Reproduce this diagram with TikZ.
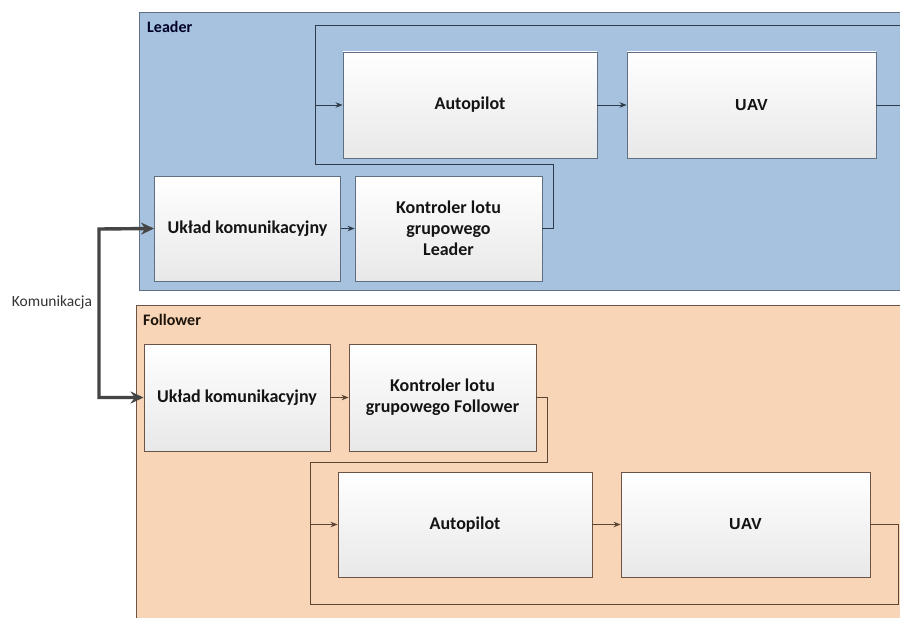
\documentclass[tikz,border=0pt]{standalone}
\usepackage{fontspec}
\setmainfont{Carlito}
\newfontfamily\uavfont{Liberation Sans}
\usetikzlibrary{arrows.meta}
\definecolor{leadfill}{HTML}{A6C2DE}
\definecolor{leadedge}{HTML}{5F7083}
\definecolor{leadline}{HTML}{2E3B4A}
\definecolor{follfill}{HTML}{F7D5B6}
\definecolor{folledge}{HTML}{6B5446}
\definecolor{follline}{HTML}{5C4535}
\definecolor{commcol}{HTML}{454545}
\tikzset{
  panel/.style={draw=#1, line width=1.1pt, anchor=north west, inner sep=0pt},
  blockbox/.style={draw=#1, line width=0.9pt, top color=white, bottom color=black!9,
    text=black!92, font=\bfseries\fontsize{18}{21}\selectfont, align=center, inner sep=2pt},
  uavtext/.style={font=\uavfont\bfseries\fontsize{16}{19}\selectfont},
  flow/.style={draw=#1, line width=0.9pt},
  flowarrow/.style={draw=#1, line width=0.9pt, -{Stealth[length=7pt,width=5.5pt]}},
  comm/.style={draw=commcol, line width=3.4pt, {Stealth[length=13pt,width=12pt]}-{Stealth[length=13pt,width=12pt]}},
  paneltitle/.style={font=\bfseries\fontsize{16}{19}\selectfont, anchor=west, inner sep=0pt}
}
\begin{document}
\begin{tikzpicture}[x=1pt,y=-1pt]
\useasboundingbox (0,0) rectangle (900,618);
\clip (0,0) rectangle (900,618);
\fill[white] (0,0) rectangle (900,618);

% panels
\node[panel=leadedge, fill=leadfill, minimum width=780pt, minimum height=278pt] (leader) at (139,12) {};
\node[panel=folledge, fill=follfill, minimum width=780pt, minimum height=330pt] (follower) at (136,305) {};
\node[paneltitle, text=black!85!blue] (leadertitle) at (147,27) {Leader};
\node[paneltitle, text=black!85!brown] (followertitle) at (143,320) {Follower};

% leader blocks
\node[blockbox=leadedge, minimum width=186pt, minimum height=105pt] (ulL) at (247.5,228.5) {Układ komunikacyjny};
\node[blockbox=leadedge, minimum width=187pt, minimum height=105pt] (kL) at (448.5,228.5) {Kontroler lotu\\grupowego\\Leader};
\node[blockbox=leadedge, minimum width=254pt, minimum height=106pt] (apL) at (470,105) {Autopilot};
\node[blockbox=leadedge, minimum width=249pt, minimum height=106pt, uavtext] (uavL) at (751.5,105) {UAV};

% follower blocks
\node[blockbox=folledge, minimum width=186pt, minimum height=107pt] (ulF) at (237,397.5) {Układ komunikacyjny};
\node[blockbox=folledge, minimum width=187pt, minimum height=107pt] (kF) at (442.5,397.5) {Kontroler lotu\\grupowego Follower};
\node[blockbox=folledge, minimum width=254pt, minimum height=105pt] (apF) at (465,524.5) {Autopilot};
\node[blockbox=folledge, minimum width=249pt, minimum height=105pt, uavtext] (uavF) at (745.5,524.5) {UAV};

% leader connectors
\coordinate (lt) at (315,25);
\coordinate (lr) at (910,25);
\coordinate (lk) at (553,164);
\draw[flowarrow=leadline] (ulL.east) -- (kL.west);
\draw[flowarrow=leadline] (apL.east) -- (uavL.west);
\draw[flowarrow=leadline] (uavL.east) -| (lr) -- (lt) |- (apL.west);
\draw[flow=leadline] (kL.east) -| (lk) -| (apL.west -| lt);

% follower connectors
\coordinate (fk) at (547,462);
\coordinate (fb) at (898,604);
\coordinate (fl) at (310,604);
\draw[flowarrow=follline] (ulF.east) -- (kF.west);
\draw[flowarrow=follline] (apF.east) -- (uavF.west);
\draw[flowarrow=follline] (uavF.east) -| (fb) -- (fl) |- (apF.west);
\draw[flow=follline] (kF.east) -| (fk) -| (apF.west -| fl);

% communication
\coordinate (cbend) at (99,229);
\draw[comm] (ulL.west) -- (cbend) |- (ulF.west);
\node[font=\fontsize{15.5}{18}\selectfont, text=black!80] (commlabel) at (52,302) {Komunikacja};
\end{tikzpicture}
\end{document}
